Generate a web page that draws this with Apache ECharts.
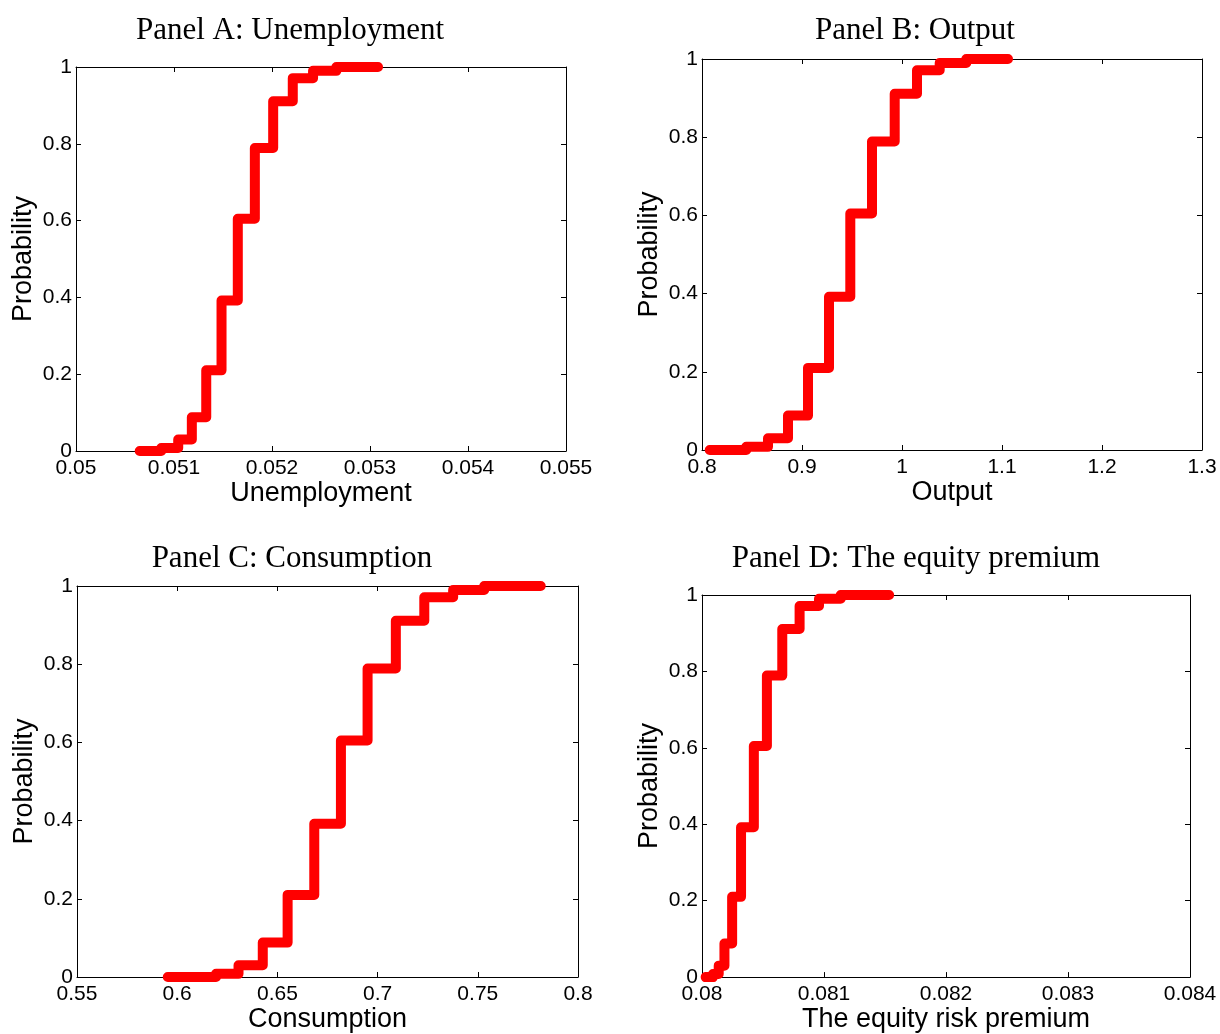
<!DOCTYPE html>
<html>
<head>
<meta charset="utf-8">
<script src="https://cdn.jsdelivr.net/npm/echarts@6/dist/echarts.min.js"></script>
<style>
html, body { margin: 0; background: #fff; }
#main { width: 1220px; height: 1034px; }
</style>
</head>
<body>
<div id="main"></div>
<script>
// cumulative probability after each jump (last entry = end of the stairs)
var probLevels = [0, 0.008, 0.03, 0.088, 0.21, 0.392, 0.605, 0.789, 0.911, 0.971, 0.99, 1, 1];

// jump locations
var unemployment = [0.05065, 0.05087, 0.051043, 0.051182, 0.051329, 0.051485, 0.051651, 0.051825, 0.052012, 0.052212, 0.052419, 0.052657, 0.053082];
var output = [0.8077, 0.8443, 0.866, 0.886, 0.906, 0.927, 0.9483, 0.97, 0.9927, 1.015, 1.0377, 1.0643, 1.106];
var consumption = [0.5953, 0.6194, 0.6306, 0.6427, 0.6551, 0.6684, 0.6817, 0.695, 0.7091, 0.7233, 0.7377, 0.7532, 0.7814];
var equityPremium = [0.08003, 0.08009, 0.080137, 0.080184, 0.080247, 0.08032, 0.080425, 0.080532, 0.080658, 0.0808, 0.080959, 0.081137, 0.081534];

// tick values
var probTicks = [0, 0.2, 0.4, 0.6, 0.8, 1];
var unempTicks = [0.05, 0.051, 0.052, 0.053, 0.054, 0.055];
var outputTicks = [0.8, 0.9, 1, 1.1, 1.2, 1.3];
var consTicks = [0.55, 0.6, 0.65, 0.7, 0.75, 0.8];
var equityTicks = [0.08, 0.081, 0.082, 0.083, 0.084];

var panels = [
    {title: 'Panel A: Unemployment', xName: 'Unemployment', xs: unemployment, ticks: unempTicks,
     grid: {left: 76, top: 67, width: 490, height: 384}, titleX: 285, titleY: 10, nameGap: 26},
    {title: 'Panel B: Output', xName: 'Output', xs: output, ticks: outputTicks,
     grid: {left: 702, top: 59, width: 500, height: 391}, titleX: 910, titleY: 10, nameGap: 26},
    {title: 'Panel C: Consumption', xName: 'Consumption', xs: consumption, ticks: consTicks,
     grid: {left: 77, top: 586, width: 501, height: 391}, titleX: 287, titleY: 538, nameGap: 27},
    {title: 'Panel D: The equity premium', xName: 'The equity risk premium', xs: equityPremium, ticks: equityTicks,
     grid: {left: 702, top: 595, width: 488, height: 383}, titleX: 911, titleY: 538, nameGap: 26}
];

var sans = 'Liberation Sans';
var black = '#000';

function tidy(v) {
    return String(+v.toFixed(6));
}

function boxAxis(ticks, position, gridIndex, showLabel) {
    return {
        type: 'value',
        gridIndex: gridIndex,
        position: position,
        min: ticks[0],
        max: ticks[ticks.length - 1],
        interval: +(ticks[1] - ticks[0]).toFixed(6),
        axisLine: {show: true, onZero: false, lineStyle: {color: black, width: 1}},
        axisTick: {show: true, inside: true, length: 5, lineStyle: {color: black}},
        axisLabel: {show: showLabel, color: black, fontFamily: sans, fontSize: 21, formatter: tidy},
        splitLine: {show: false}
    };
}

var option = {
    animation: false,
    backgroundColor: '#fff',
    title: [],
    grid: [],
    xAxis: [],
    yAxis: [],
    series: []
};

panels.forEach(function (p, i) {
    option.title.push({
        text: p.title,
        left: p.titleX,
        top: p.titleY,
        textAlign: 'center',
        textStyle: {fontFamily: 'Liberation Serif', fontSize: 31, fontWeight: 'normal', color: black}
    });
    option.grid.push(p.grid);

    var xb = boxAxis(p.ticks, 'bottom', i, true);
    xb.axisLabel.margin = 7;
    xb.name = p.xName;
    xb.nameLocation = 'middle';
    xb.nameGap = p.nameGap;
    xb.nameTextStyle = {fontFamily: sans, fontSize: 27, color: black};
    option.xAxis[i] = xb;
    option.xAxis[i + 4] = boxAxis(p.ticks, 'top', i, false);

    var yl = boxAxis(probTicks, 'left', i, true);
    yl.axisLabel.margin = 4;
    yl.name = 'Probability';
    yl.nameLocation = 'middle';
    yl.nameGap = 39;
    yl.nameTextStyle = {fontFamily: sans, fontSize: 27, color: black};
    option.yAxis[i] = yl;
    option.yAxis[i + 4] = boxAxis(probTicks, 'right', i, false);

    option.series.push({
        type: 'line',
        xAxisIndex: i,
        yAxisIndex: i,
        step: 'end',
        symbol: 'none',
        clip: true,
        lineStyle: {color: '#ff0000', width: 10, cap: 'round', join: 'round'},
        data: p.xs.map(function (x, j) { return [x, probLevels[j]]; })
    });
});

var myChart = echarts.init(document.getElementById('main'));
myChart.setOption(option);
</script>
</body>
</html>
